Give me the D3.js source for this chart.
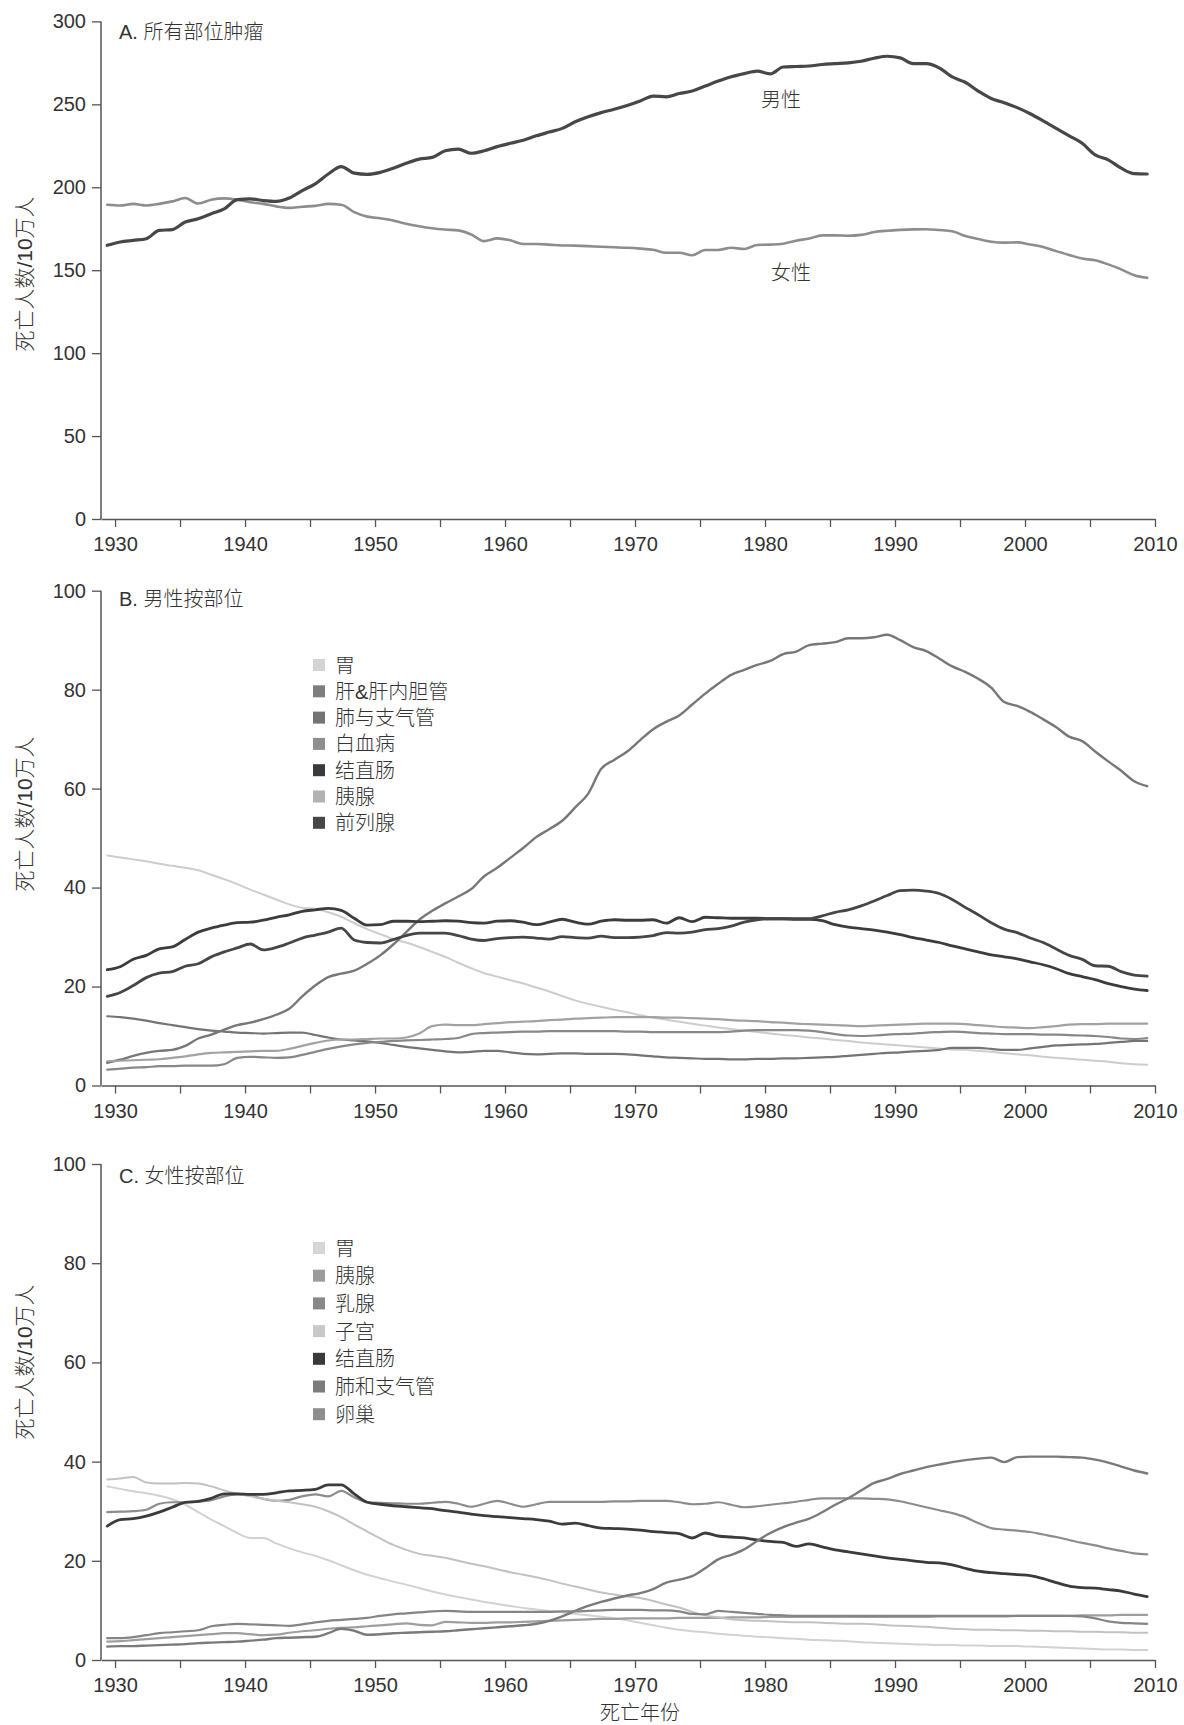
<!DOCTYPE html>
<html>
<head>
<meta charset="utf-8">
<title>肿瘤死亡率趋势</title>
<script src="https://cdn.jsdelivr.net/npm/d3@7/dist/d3.min.js"></script>
<style>
  body { margin: 0; background: #fff; }
  svg text { fill: #333; }
</style>
</head>
<body>
<div class="chart"></div>
<script>

// one value per year, 1930 - 2010
const years = [1930, 1931, 1932, 1933, 1934, 1935, 1936, 1937, 1938, 1939,
  1940, 1941, 1942, 1943, 1944, 1945, 1946, 1947, 1948, 1949,
  1950, 1951, 1952, 1953, 1954, 1955, 1956, 1957, 1958, 1959,
  1960, 1961, 1962, 1963, 1964, 1965, 1966, 1967, 1968, 1969,
  1970, 1971, 1972, 1973, 1974, 1975, 1976, 1977, 1978, 1979,
  1980, 1981, 1982, 1983, 1984, 1985, 1986, 1987, 1988, 1989,
  1990, 1991, 1992, 1993, 1994, 1995, 1996, 1997, 1998, 1999,
  2000, 2001, 2002, 2003, 2004, 2005, 2006, 2007, 2008, 2009,
  2010];

// A. all sites
const allMale = [165, 167, 168, 169, 174, 174.5, 179, 181, 184, 187,
  192.5, 193, 192, 191.5, 193.5, 198, 202, 208, 212.5, 208.5,
  207.8, 209, 211.5, 214.5, 217, 218, 222, 223, 220.5, 222,
  224.5, 226.5, 228.3, 231, 233.3, 235.5, 239.5, 242.5, 245, 247,
  249.3, 252, 255, 254.5, 256.5, 258, 261, 264, 266.6, 268.5,
  270, 268.4, 272.5, 272.8, 273.1, 274, 274.5, 275, 276, 277.8,
  279, 278, 274.6, 274.6, 272, 266.5, 263.3, 258, 253.5, 251,
  248, 244.3, 240, 235.5, 231, 226.5, 219.5, 216.5, 211.5, 208.2,
  208];
const allFemale = [189.5, 189, 190, 189, 190, 191.5, 193.5, 190.2, 192.5, 193.3,
  192.5, 191, 190, 188.5, 187.6, 188.3, 188.8, 190, 189.5, 185,
  182.3, 181.3, 180, 178, 176.5, 175.3, 174.5, 174, 171.5, 167.5,
  169.2, 168, 165.8, 165.8, 165.4, 164.9, 164.8, 164.5, 164.1, 163.8,
  163.5, 163, 162.3, 160.5, 160.5, 159, 162.2, 162.2, 163.5, 162.8,
  165.2, 165.4, 166, 167.8, 169.1, 171, 171, 170.8, 171.3, 173,
  173.8, 174.3, 174.6, 174.7, 174.2, 173.5, 170.6, 168.8, 167.2, 166.6,
  166.8, 165.5, 164, 161.5, 159.2, 157, 156, 153.5, 150.5, 147,
  145.4];

// B. males by site
const mStomach = [46.5, 46.1, 45.7, 45.3, 44.8, 44.4, 44, 43.5, 42.6, 41.7,
  40.7, 39.6, 38.6, 37.6, 36.6, 35.9, 35.7, 35, 34.1, 32.8,
  31.6, 30.6, 29.6, 28.9, 28, 27, 26, 24.8, 23.7, 22.7,
  22, 21.3, 20.6, 19.8, 19, 18.1, 17.2, 16.5, 15.9, 15.3,
  14.8, 14.2, 13.7, 13.3, 12.9, 12.5, 12.1, 11.7, 11.4, 11.1,
  10.8, 10.5, 10.2, 10, 9.7, 9.5, 9.2, 9, 8.7, 8.5,
  8.3, 8.1, 7.9, 7.7, 7.5, 7.3, 7.2, 7, 6.8, 6.5,
  6.3, 6.1, 5.8, 5.6, 5.4, 5.2, 5, 4.8, 4.5, 4.3,
  4.2];
const mLiver = [14, 13.8, 13.5, 13.1, 12.6, 12.2, 11.8, 11.4, 11.1, 10.9,
  10.7, 10.6, 10.5, 10.6, 10.7, 10.7, 10.2, 9.7, 9.3, 9.1,
  8.9, 8.6, 8.2, 7.8, 7.5, 7.2, 6.9, 6.7, 6.8, 7,
  7, 6.7, 6.4, 6.3, 6.4, 6.5, 6.5, 6.4, 6.4, 6.4,
  6.3, 6.1, 5.9, 5.7, 5.6, 5.5, 5.4, 5.4, 5.3, 5.3,
  5.4, 5.4, 5.5, 5.5, 5.6, 5.7, 5.8, 6, 6.2, 6.4,
  6.6, 6.7, 6.9, 7, 7.2, 7.6, 7.6, 7.6, 7.4, 7.2,
  7.2, 7.5, 7.8, 8.1, 8.2, 8.3, 8.4, 8.6, 8.8, 9,
  9];
const mLung = [4.6, 5.2, 6, 6.6, 7, 7.2, 8, 9.5, 10.3, 11.3,
  12.2, 12.7, 13.4, 14.3, 15.5, 18, 20.2, 21.9, 22.6, 23.2,
  24.6, 26.3, 28.5, 31, 33.5, 35.3, 36.8, 38.2, 39.7, 42.3,
  44, 46, 48, 50.2, 51.8, 53.5, 56.2, 59, 64, 65.8,
  67.5, 69.8, 72, 73.5, 74.8, 77, 79.2, 81.2, 83, 84,
  85, 85.8, 87.2, 87.7, 89, 89.3, 89.6, 90.4, 90.4, 90.6,
  91.1, 90, 88.6, 87.8, 86.3, 84.7, 83.6, 82.2, 80.4, 77.5,
  76.7, 75.5, 74, 72.4, 70.5, 69.6, 67.5, 65.5, 63.6, 61.5,
  60.5];
const mLeukemia = [3.2, 3.4, 3.6, 3.7, 3.9, 3.9, 4, 4, 4, 4.3,
  5.6, 5.8, 5.7, 5.6, 5.7, 6.2, 6.8, 7.4, 7.9, 8.3,
  8.6, 8.8, 9, 9.1, 9.2, 9.3, 9.4, 9.6, 10.4, 10.6,
  10.7, 10.8, 10.9, 10.9, 11, 11, 11, 11, 11, 11,
  10.9, 10.9, 10.8, 10.8, 10.8, 10.8, 10.8, 10.8, 10.9, 11.1,
  11.2, 11.2, 11.2, 11.2, 11.1, 10.8, 10.4, 10.1, 10, 10.1,
  10.3, 10.4, 10.5, 10.7, 10.8, 10.9, 10.8, 10.6, 10.5, 10.4,
  10.4, 10.4, 10.3, 10.3, 10.2, 10.1, 10, 9.8, 9.5, 9.4,
  9.6];
const mColorectum = [23.4, 24, 25.5, 26.3, 27.6, 28, 29.5, 31, 31.8, 32.4,
  32.9, 33, 33.4, 34, 34.5, 35.2, 35.5, 35.8, 35.4, 33.8,
  32.4, 32.5, 33.2, 33.2, 33.1, 33.2, 33.3, 33.2, 32.9, 32.8,
  33.2, 33.3, 33, 32.5, 33, 33.6, 33, 32.6, 33.2, 33.5,
  33.4, 33.4, 33.5, 32.8, 33.9, 33.1, 34, 33.9, 33.8, 33.8,
  33.8, 33.7, 33.7, 33.6, 33.6, 33.3, 32.5, 32, 31.7, 31.4,
  31, 30.5, 29.9, 29.4, 28.9, 28.2, 27.6, 27, 26.4, 26,
  25.6, 25, 24.4, 23.6, 22.6, 22, 21.4, 20.6, 20, 19.5,
  19.2];
const mPancreas = [4.9, 5, 5.1, 5.2, 5.3, 5.6, 5.9, 6.3, 6.6, 6.7,
  6.8, 6.9, 7, 7, 7.4, 8, 8.6, 9.1, 9.3, 9.3,
  9.4, 9.5, 9.5, 9.7, 10.5, 12, 12.3, 12.2, 12.2, 12.4,
  12.6, 12.8, 12.9, 13, 13.2, 13.3, 13.5, 13.6, 13.7, 13.8,
  13.8, 13.8, 13.8, 13.7, 13.7, 13.6, 13.5, 13.4, 13.2, 13.1,
  13, 12.8, 12.7, 12.5, 12.4, 12.3, 12.2, 12.1, 12, 12.1,
  12.2, 12.3, 12.4, 12.5, 12.5, 12.5, 12.4, 12.2, 12, 11.8,
  11.7, 11.6, 11.8, 12, 12.3, 12.4, 12.4, 12.5, 12.5, 12.5,
  12.5];
const mProstate = [18, 18.8, 20.2, 21.8, 22.7, 23, 24.1, 24.6, 26, 27,
  27.8, 28.6, 27.4, 27.9, 28.8, 29.8, 30.4, 31, 31.8, 29.4,
  28.9, 28.8, 29.5, 30.3, 30.8, 30.8, 30.8, 30.3, 29.6, 29.3,
  29.7, 29.9, 30, 29.8, 29.6, 30.1, 29.9, 29.8, 30.2, 29.9,
  29.9, 30, 30.3, 30.9, 30.8, 31, 31.5, 31.7, 32.2, 33,
  33.5, 33.7, 33.7, 33.7, 33.7, 34.3, 35, 35.5, 36.3, 37.3,
  38.4, 39.4, 39.5, 39.3, 38.8, 37.6, 36, 34.5, 32.9, 31.6,
  30.9, 29.8, 28.9, 27.6, 26.3, 25.5, 24.2, 24.1, 23, 22.3,
  22.1];

// C. females by site
const fStomach = [35, 34.5, 34, 33.6, 33.1, 32.4, 31.3, 29.8, 28.3, 27,
  25.6, 24.6, 24.6, 23.5, 22.5, 21.7, 21, 20.1, 19.1, 18.1,
  17.2, 16.5, 15.8, 15.2, 14.5, 13.8, 13.2, 12.7, 12.2, 11.7,
  11.3, 10.9, 10.5, 10.2, 9.9, 9.6, 9.3, 9, 8.7, 8.4,
  8, 7.5, 7, 6.5, 6.1, 5.8, 5.6, 5.3, 5.1, 4.9,
  4.7, 4.6, 4.4, 4.3, 4.1, 4, 3.9, 3.8, 3.6, 3.5,
  3.4, 3.3, 3.2, 3.1, 3, 3, 2.9, 2.9, 2.8, 2.8,
  2.8, 2.7, 2.6, 2.5, 2.4, 2.3, 2.2, 2.1, 2.1, 2,
  2];
const fPancreas = [3.7, 3.8, 4, 4.2, 4.4, 4.6, 4.8, 5, 5.2, 5.4,
  5.4, 5.2, 5, 5.1, 5.5, 5.8, 6, 6.3, 6.5, 6.6,
  6.8, 7, 7.2, 7.4, 7.1, 7, 7.7, 7.6, 7.5, 7.5,
  7.6, 7.6, 7.7, 7.8, 7.9, 8, 8.1, 8.2, 8.3, 8.3,
  8.4, 8.4, 8.4, 8.4, 8.5, 8.5, 8.5, 8.5, 8.6, 8.6,
  8.6, 8.7, 8.7, 8.7, 8.7, 8.7, 8.7, 8.7, 8.7, 8.7,
  8.7, 8.7, 8.7, 8.7, 8.8, 8.8, 8.8, 8.8, 8.8, 8.8,
  8.9, 8.9, 8.9, 8.9, 8.9, 9, 9, 9, 9.1, 9.1,
  9.1];
const fBreast = [29.8, 29.9, 30, 30.3, 31.5, 31.8, 31.8, 31.9, 32.2, 33,
  33.4, 33.2, 32.5, 32.1, 32.3, 33, 33.4, 33, 34.1, 32.8,
  31.8, 31.7, 31.6, 31.5, 31.5, 31.7, 31.9, 31.5, 30.9, 31.5,
  32.1, 31.5, 30.9, 31.4, 31.9, 31.9, 31.9, 31.9, 31.9, 32,
  32, 32.1, 32.1, 32.1, 31.8, 31.4, 31.5, 31.8, 31.3, 30.8,
  31, 31.3, 31.6, 31.9, 32.3, 32.6, 32.6, 32.6, 32.6, 32.5,
  32.4, 32, 31.4, 30.8, 30.2, 29.6, 28.8, 27.6, 26.6, 26.3,
  26.1, 25.8, 25.3, 24.8, 24.2, 23.6, 23.1, 22.5, 22, 21.5,
  21.3];
const fUterus = [36.4, 36.6, 36.9, 35.8, 35.6, 35.6, 35.7, 35.6, 35, 34.2,
  33.5, 33, 32.5, 32.1, 31.8, 31.4, 30.9, 30, 28.8, 27.3,
  25.9, 24.5, 23.2, 22.2, 21.4, 21, 20.6, 20, 19.4, 18.9,
  18.3, 17.7, 17.2, 16.7, 16.1, 15.4, 14.8, 14.2, 13.6, 13.2,
  12.8, 12.5, 11.9, 11.2, 10.6, 9.7, 9, 8.6, 8.2, 8,
  7.9, 7.8, 7.7, 7.6, 7.6, 7.5, 7.4, 7.3, 7.3, 7.2,
  7, 6.9, 6.8, 6.7, 6.5, 6.3, 6.2, 6.1, 6.1, 6,
  6, 5.9, 5.9, 5.8, 5.8, 5.7, 5.7, 5.6, 5.6, 5.5,
  5.5];
const fColorectum = [27, 28.3, 28.5, 29, 29.8, 30.8, 31.8, 32, 32.6, 33.5,
  33.5, 33.4, 33.4, 33.7, 34.1, 34.2, 34.4, 35.3, 35.3, 33.5,
  31.8, 31.4, 31.1, 30.9, 30.7, 30.5, 30.1, 29.8, 29.4, 29.1,
  28.9, 28.7, 28.5, 28.3, 28, 27.4, 27.6, 27.1, 26.6, 26.5,
  26.4, 26.2, 25.9, 25.7, 25.5, 24.6, 25.6, 25, 24.8, 24.6,
  24.2, 23.9, 23.7, 22.9, 23.4, 22.8, 22.2, 21.8, 21.4, 21,
  20.6, 20.3, 20, 19.7, 19.6, 19.2, 18.5, 17.9, 17.6, 17.4,
  17.2, 17, 16.4, 15.6, 14.9, 14.6, 14.5, 14.2, 13.9, 13.3,
  12.8];
const fLung = [2.7, 2.8, 2.8, 2.9, 3, 3.1, 3.2, 3.4, 3.5, 3.6,
  3.7, 3.9, 4.1, 4.4, 4.5, 4.6, 4.7, 5.4, 6.3, 5.9,
  5.1, 5.2, 5.4, 5.5, 5.6, 5.7, 5.8, 6, 6.2, 6.4,
  6.6, 6.8, 7, 7.3, 7.9, 8.8, 9.9, 10.9, 11.7, 12.4,
  13, 13.5, 14.3, 15.6, 16.2, 16.9, 18.5, 20.3, 21.2, 22.3,
  24, 25.6, 26.8, 27.7, 28.5, 29.8, 31.3, 32.6, 34.2, 35.7,
  36.5, 37.5, 38.2, 38.9, 39.4, 39.9, 40.3, 40.6, 40.8, 39.9,
  40.9, 41, 41, 41, 40.9, 40.8, 40.4, 39.8, 39, 38.2,
  37.6];
const fOvary = [4.4, 4.4, 4.6, 5, 5.4, 5.6, 5.8, 6, 6.8, 7.1,
  7.3, 7.2, 7.1, 7, 6.9, 7.2, 7.6, 7.9, 8.1, 8.3,
  8.5, 8.9, 9.2, 9.4, 9.6, 9.8, 9.9, 9.8, 9.7, 9.7,
  9.7, 9.7, 9.7, 9.7, 9.7, 9.8, 9.8, 9.9, 10, 10.1,
  10.1, 10.1, 10, 10, 9.8, 9.3, 9.2, 9.9, 9.7, 9.5,
  9.3, 9.1, 9, 8.9, 8.9, 8.9, 8.9, 8.9, 8.9, 8.9,
  8.9, 8.9, 8.9, 8.9, 8.9, 8.9, 8.9, 8.9, 8.9, 8.9,
  8.9, 8.9, 8.9, 8.9, 8.9, 8.8, 8.4, 7.8, 7.5, 7.4,
  7.3];

const maleNames = ["胃", "肝&肝内胆管", "肺与支气管", "白血病", "结直肠", "胰腺", "前列腺"];
const femaleNames = ["胃", "胰腺", "乳腺", "子宫", "结直肠", "肺和支气管", "卵巢"];
const xTicks = [1930, 1935, 1940, 1945, 1950, 1955, 1960, 1965, 1970, 1975,
  1980, 1985, 1990, 1995, 2000, 2005, 2010];

const W = 1184, H = 1725;
const numFont = "'Liberation Sans', Arial, sans-serif";
const txtFont = "'Liberation Sans', 'Noto Sans CJK SC', sans-serif";

const svg = d3.select(".chart")
  .append("svg")
  .attr("width", W)
  .attr("height", H);

svg.append("rect").attr("width", W).attr("height", H).attr("fill", "#fff");

const x = d3.scaleLinear().domain([1928.92, 2010]).range([101, 1155]);
// the curves in the original sit a bit left of the year ticks
const shift = 0.6;

function panel(cfg) {
  const y = d3.scaleLinear().domain([0, cfg.max]).range(cfg.yRange);
  const g = svg.append("g");

  // lines
  const line = d3.line()
    .x((d, i) => x(years[i] - shift))
    .y(d => y(d))
    .curve(d3.curveMonotoneX);

  g.selectAll("path.series")
    .data(cfg.series)
    .enter()
    .append("path")
    .attr("class", "series")
    .attr("d", s => line(s.values))
    .attr("fill", "none")
    .attr("stroke", s => s.color)
    .attr("stroke-width", s => s.width)
    .attr("stroke-linejoin", "round")
    .attr("stroke-linecap", "round");

  // axes
  const xAxis = g.append("g")
    .attr("transform", "translate(0," + y(0) + ")")
    .call(d3.axisBottom(x)
      .tickValues(xTicks)
      .tickSize(8)
      .tickSizeOuter(0)
      .tickPadding(10)
      .tickFormat(d => d % 10 === 0 ? d : ""));

  const yAxis = g.append("g")
    .attr("transform", "translate(101,0)")
    .call(d3.axisLeft(y)
      .tickValues(cfg.yTicks)
      .tickSize(9)
      .tickSizeOuter(0)
      .tickPadding(6));

  [xAxis, yAxis].forEach(a => {
    a.attr("font-size", 20).attr("font-family", numFont);
    a.select(".domain").attr("stroke", "#555").attr("stroke-width", 1.5);
    a.selectAll(".tick line").attr("stroke", "#555").attr("stroke-width", 1.3);
    a.selectAll(".tick text").attr("fill", "#3a3a3a");
  });
  yAxis.select(".domain").attr("d", "M0," + y(0) + "V" + y(cfg.max));

  // y title
  g.append("text")
    .attr("transform", "translate(32," + cfg.yTitleY + ") rotate(-90)")
    .attr("text-anchor", "middle")
    .attr("font-family", txtFont)
    .attr("font-size", 21)
    .attr("font-weight", 300)
    .text("死亡人数/10万人");

  // panel title
  g.append("text")
    .attr("x", 119)
    .attr("y", cfg.titleY)
    .attr("font-family", txtFont)
    .attr("font-size", 20)
    .attr("font-weight", 300)
    .text(cfg.title);

  // legend
  if (cfg.legend) {
    const lg = g.append("g").attr("transform", "translate(313," + cfg.legend.top + ")");
    const item = lg.selectAll("g")
      .data(cfg.series)
      .enter()
      .append("g")
      .attr("transform", (d, i) => "translate(0," + (i * cfg.legend.step) + ")");
    item.append("rect")
      .attr("x", 0).attr("y", -6)
      .attr("width", 12).attr("height", 12)
      .attr("fill", d => d.swatch);
    item.append("text")
      .attr("x", 22).attr("y", 7.5)
      .attr("font-family", txtFont)
      .attr("font-size", 20)
      .attr("font-weight", 300)
      .text(d => d.name);
  }
  return y;
}

// A
const yA = panel({
  title: "A. 所有部位肿瘤",
  titleY: 39,
  max: 300,
  yRange: [519, 21.4],
  yTicks: [0, 50, 100, 150, 200, 250, 300],
  yTitleY: 274,
  series: [
    { values: allFemale, color: "#8d8d8d", width: 2.6 },
    { values: allMale, color: "#474747", width: 3.2 }
  ]
});

svg.append("text").attr("x", 761).attr("y", 107)
  .attr("font-family", txtFont).attr("font-size", 20).attr("font-weight", 300)
  .text("男性");
svg.append("text").attr("x", 771).attr("y", 280)
  .attr("font-family", txtFont).attr("font-size", 20).attr("font-weight", 300)
  .text("女性");

// B
const maleColors = ["#cdcdcd", "#747474", "#777777", "#888888", "#3c3c3c", "#a2a2a2", "#464646"];
const maleSwatch = ["#d3d3d3", "#7e7e7e", "#737373", "#8f8f8f", "#3a3a3a", "#b2b2b2", "#474747"];
const maleWidths = [2, 2.2, 2.4, 2.2, 2.8, 2.2, 2.8];
const maleValues = [mStomach, mLiver, mLung, mLeukemia, mColorectum, mPancreas, mProstate];

panel({
  title: "B. 男性按部位",
  titleY: 606,
  max: 100,
  yRange: [1085.5, 590.7],
  yTicks: [0, 20, 40, 60, 80, 100],
  yTitleY: 814,
  legend: { top: 665, step: 26.3 },
  series: maleNames.map((n, i) => ({
    name: n, values: maleValues[i], color: maleColors[i],
    swatch: maleSwatch[i], width: maleWidths[i]
  }))
});

// C
const femaleColors = ["#d2d2d2", "#9e9e9e", "#8c8c8c", "#c2c2c2", "#3b3b3b", "#7a7a7a", "#858585"];
const femaleSwatch = ["#d6d6d6", "#9c9c9c", "#888888", "#c8c8c8", "#3a3a3a", "#7c7c7c", "#8e8e8e"];
const femaleWidths = [2, 2.2, 2.2, 2, 2.8, 2.4, 2.2];
const femaleValues = [fStomach, fPancreas, fBreast, fUterus, fColorectum, fLung, fOvary];

panel({
  title: "C. 女性按部位",
  titleY: 1183,
  max: 100,
  yRange: [1660, 1164],
  yTicks: [0, 20, 40, 60, 80, 100],
  yTitleY: 1362,
  legend: { top: 1248, step: 27.7 },
  series: femaleNames.map((n, i) => ({
    name: n, values: femaleValues[i], color: femaleColors[i],
    swatch: femaleSwatch[i], width: femaleWidths[i]
  }))
});

// x title
svg.append("text")
  .attr("x", 600)
  .attr("y", 1720)
  .attr("font-family", txtFont)
  .attr("font-size", 20)
  .attr("font-weight", 300)
  .text("死亡年份");

</script>
</body>
</html>
